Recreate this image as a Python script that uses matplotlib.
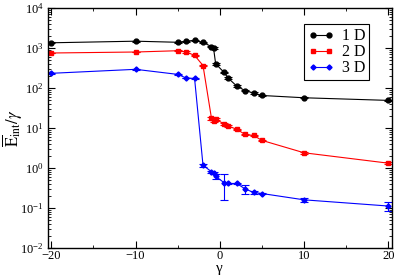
import numpy as np
import matplotlib
matplotlib.use("Agg")
import matplotlib.pyplot as plt
from matplotlib.lines import Line2D
from matplotlib.ticker import LogLocator, MultipleLocator, NullFormatter

plt.rcParams['font.family'] = ['Liberation Serif', 'DejaVu Serif']
plt.rcParams['mathtext.fontset'] = 'stix'

# gamma values (same for all three curves)
gamma = [-20, -10, -5, -4, -3, -2, -1, -0.75, -0.5, 0.5, 1, 2, 3, 4, 5, 10, 20]

# E_int / gamma
e_1d = [1350, 1480, 1390, 1480, 1560, 1375, 1090, 1000, 405, 245, 176, 112, 86, 75, 65, 57, 49]
e_2d = [750, 794, 855, 794, 655, 365, 17.8, 15.0, 16.8, 12.6, 11.2, 9.3, 6.9, 6.5, 4.9, 2.4, 1.32]
e_3d = [233, 293, 219, 178, 173, 1.17, 0.81, 0.75, 0.62, 0.43, 0.41, 0.41, 0.30, 0.245, 0.23, 0.16, 0.112]

# error bars
err_1d = [40, 40, 40, 40, 50, 60, 60, 60, 20, 12, 8, 6, 4, 3, 3, 2, 2]
err_2d = [20, 20, 25, 25, 20, 15, 1.5, 1.2, 1.2, 0.5, 0.4, 0.3, 0.3, 0.3, 0.2, 0.15, 0.08]
err_3d = [6, 8, 6, 5, 5, 0.11, 0.05, 0.05, 0.08, 0.27, 0.02, 0.02, 0.077, 0.015, 0.012, 0.015, 0.03]

fig = plt.figure(figsize=(3.95, 2.77), dpi=100)
ax = fig.add_axes([48/395, 1 - 248/277, 343.7/395, 240/277])

series = [
    (e_1d, err_1d, 'black', 'o', 3.5, '1 D'),
    (e_2d, err_2d, 'red', 's', 3.0, '2 D'),
    (e_3d, err_3d, 'blue', 'D', 2.6, '3 D'),
]
handles = []
for vals, errs, col, mk, ms, lab in series:
    ax.errorbar(gamma, vals, yerr=errs, color=col, marker=mk, markersize=ms,
                linewidth=0.8, elinewidth=0.8, capsize=3, capthick=0.8)
    handles.append(Line2D([], [], color=col, marker=mk, markersize=ms,
                          linewidth=0.8, label=lab))

ax.set_yscale('log')
ax.set_xlim(-20.4, 20.4)
ax.set_ylim(1e-2, 1e4)

ax.xaxis.set_major_locator(MultipleLocator(10))
ax.xaxis.set_minor_locator(MultipleLocator(5))
ax.yaxis.set_major_locator(LogLocator(base=10, numticks=10))
ax.yaxis.set_minor_locator(LogLocator(base=10, subs=np.arange(2, 10), numticks=10))
ax.yaxis.set_minor_formatter(NullFormatter())

ax.tick_params(which='both', direction='in', top=True, right=True, labelsize=9)
ax.tick_params(which='major', length=5, width=0.8)
ax.tick_params(axis='x', which='major', pad=1.5)
ax.tick_params(axis='y', which='major', pad=3)
ax.tick_params(which='minor', length=2.5, width=0.6)
for sp in ax.spines.values():
    sp.set_linewidth(1.0)

ax.set_xlabel('γ', fontsize=11, labelpad=0)
ax.set_ylabel(r'$\overline{\mathrm{E}}_{\mathrm{int}}/\gamma$', fontsize=12, labelpad=-3)

leg = ax.legend(handles=handles, loc='upper right', bbox_to_anchor=(0.934, 0.932),
                numpoints=2, fancybox=False, edgecolor='black', framealpha=1,
                fontsize=11.5, handlelength=1.6, borderpad=0.25, labelspacing=0.0,
                handletextpad=0.5, borderaxespad=0)
leg.get_frame().set_linewidth(0.8)

fig.savefig('out.png', dpi=100)
